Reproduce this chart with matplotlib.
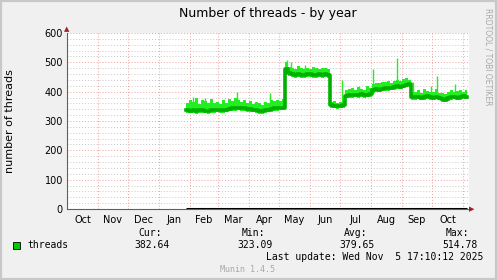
import numpy as np
import matplotlib
matplotlib.use("Agg")
import matplotlib.pyplot as plt
import matplotlib.dates as mdates
from matplotlib.patches import Rectangle
import datetime as dt

# ---------------- data ----------------
title = "Number of threads - by year"
ylabel = "number of threads"
months = ["Oct", "Nov", "Dec", "Jan", "Feb", "Mar", "Apr", "May", "Jun",
          "Jul", "Aug", "Sep", "Oct"]
x_start = dt.date(2024, 10, 1)
x_end = dt.date(2025, 11, 7)
data_start = dt.date(2025, 1, 28)   # first sample (3-day bins)
bin_days = 3

avg = [336, 335, 337, 334, 336, 338, 335, 334, 336, 337,
       338, 337, 336, 339, 342, 344, 343, 345, 344, 343,
       341, 340, 338, 336, 334, 333, 336, 339, 341, 343,
       344, 345, 346,
       478,
       462, 460, 458, 459, 457, 458, 460, 459, 458, 457, 459, 458, 460,
       456,
       353, 352, 350, 352, 354,
       386,
       388, 387, 390, 389, 391, 388, 390, 392,
       405, 408, 407, 410, 411, 412, 414, 415, 418, 417, 420,
       424, 427,
       382,
       381, 383, 380, 382, 384, 381, 379, 383, 380, 376, 373, 378, 381, 383,
       380, 382, 384, 383]

hi = [360, 372, 365, 378, 358, 370, 368, 362, 374, 360,
      365, 358, 370, 362, 375, 368, 380, 372, 366, 370,
      362, 368, 358, 364, 360, 356, 365, 362, 370, 368,
      372, 368, 375,
      500,
      485, 482, 478, 486, 480, 476, 482, 478, 484, 480, 476, 482, 479,
      478,
      365, 368, 362, 366, 372,
      405,
      408, 412, 404, 415, 410, 406, 418, 412,
      425, 430, 428, 434, 432, 436, 430, 438, 440, 437, 442,
      445, 440,
      400,
      398, 405, 396, 410, 402, 400, 398, 408, 396, 395, 392, 400, 405, 398,
      402, 406, 400, 404]

lo = [326, 327, 326, 325, 327, 328, 326, 324, 327, 328,
      329, 328, 327, 330, 333, 335, 334, 336, 335, 334,
      332, 331, 329, 327, 323, 324, 327, 330, 332, 334,
      335, 336, 337,
      460,
      452, 450, 448, 449, 447, 448, 450, 449, 448, 447, 449, 448, 450,
      446,
      344, 343, 341, 343, 345,
      378,
      379, 378, 381, 380, 382, 379, 381, 383,
      396, 399, 398, 401, 402, 403, 405, 406, 409, 408, 411,
      415, 418,
      372,
      372, 374, 371, 373, 375, 372, 370, 374, 371, 366, 364, 369, 372, 374,
      371, 373, 375, 374]

spike_dates = ["2025-02-04", "2025-02-16", "2025-03-20", "2025-04-22",
               "2025-05-09", "2025-05-13", "2025-05-27", "2025-07-03",
               "2025-07-20", "2025-08-03", "2025-08-27", "2025-09-12",
               "2025-09-30", "2025-10-06", "2025-10-24"]
spike_vals = [382, 380, 400, 395, 508, 500, 492, 440, 420, 478, 514.78,
              432, 418, 453, 425]

legend_name = "threads"
stat_labels = ["Cur:", "Min:", "Avg:", "Max:"]
stat_vals = ["382.64", "323.09", "379.65", "514.78"]
last_update = "Last update: Wed Nov  5 17:10:12 2025"

# ---------------- figure ----------------
W, H = 497, 280
fig = plt.figure(figsize=(W / 100, H / 100), dpi=100, facecolor="#f0f0f0")

def px(x, y):
    return x / W, 1 - y / H

# frame border
fig.patches.append(Rectangle((0, 0), 1, 1, transform=fig.transFigure,
                             fill=False, edgecolor="#c8c8c8", lw=3))

l, r, t, b = 67, 469, 33, 209
ax = fig.add_axes([l / W, 1 - b / H, (r - l) / W, (b - t) / H])
ax.set_facecolor("white")

days = np.array([np.datetime64(data_start) + np.timedelta64(bin_days * i, "D")
                 for i in range(len(avg))])
days_num = mdates.date2num(days.astype("datetime64[D]").astype(object))
end_num = mdates.date2num(dt.date(2025, 11, 5))
xs = np.append(days_num, end_num)
avg_e = np.append(avg, avg[-1])
hi_e = np.append(hi, hi[-1])
lo_e = np.append(lo, lo[-1])

light = "#22ee22"
dark = "#00b000"
ax.fill_between(xs, lo_e, hi_e, step="post", color=light, lw=0, zorder=3)
sd = mdates.date2num([dt.date.fromisoformat(s) for s in spike_dates])
base = np.interp(sd, xs, avg_e)
ax.vlines(sd, base, spike_vals, color=light, lw=1.0, zorder=3)
ax.plot(xs, avg_e, drawstyle="steps-post", color=dark, lw=2.6, zorder=4)
# zero line where data exists
ax.plot([xs[0], xs[-1]], [0, 0], color="black", lw=2.2, zorder=5,
        solid_capstyle="butt")

ax.set_xlim(mdates.date2num(x_start), mdates.date2num(x_end))
ax.set_ylim(0, 600)

# gridlines
for yv in range(20, 600, 20):
    if yv % 100:
        ax.axhline(yv, color="#c8c8c8", lw=0.7, ls=(0, (1, 2)), zorder=1)
for yv in range(100, 601, 100):
    ax.axhline(yv, color="#f0a0a0", lw=0.7, ls=(0, (1, 2)), zorder=2)
month_starts = []
d = dt.date(2024, 11, 1)
while d <= dt.date(2025, 11, 1):
    month_starts.append(d)
    d = dt.date(d.year + (d.month // 12), d.month % 12 + 1, 1)
for ms in month_starts:
    ax.axvline(mdates.date2num(ms), color="#f0a0a0", lw=0.7,
               ls=(0, (1, 2)), zorder=2)

# ticks
ax.set_yticks(range(0, 601, 100))
ax.set_yticklabels([str(v) for v in range(0, 601, 100)])
mid = []
d = dt.date(2024, 10, 1)
for i in range(len(months)):
    nd = dt.date(d.year + (d.month // 12), d.month % 12 + 1, 1)
    mid.append(mdates.date2num(d) + (mdates.date2num(nd) - mdates.date2num(d)) / 2)
    d = nd
ax.set_xticks(mid)
ax.set_xticklabels(months)
ax.tick_params(axis="both", length=0, labelsize=7, colors="black", pad=3)
ax.tick_params(axis="x", pad=4)
for s in ["top", "right"]:
    ax.spines[s].set_visible(False)
ax.spines["left"].set_color("#606060")
ax.spines["bottom"].set_color("#606060")
ax.spines["left"].set_linewidth(0.8)
ax.spines["bottom"].set_linewidth(0.8)

# arrows
fig.text(*px(67, 29), "▲", color="#a02020", fontsize=5, ha="center", va="center")
fig.text(*px(472, 209), "▶", color="#a02020", fontsize=5, ha="center", va="center")

# texts
fig.text(*px(268, 13), title, fontsize=9, ha="center", va="center")
fig.text(*px(10, 121), ylabel, fontsize=8, rotation=90, ha="center", va="center")
fig.text(*px(488, 57), "RRDTOOL / TOBI OETIKER", fontsize=5.5, rotation=270,
         ha="center", va="center", color="#a8a8a8")

mono = "DejaVu Sans Mono"
fig.patches.append(Rectangle(px(13, 249), 7 / W, 7 / H, transform=fig.transFigure,
                             facecolor="#00cc00", edgecolor="black", lw=0.6))
fig.text(*px(27, 245), legend_name, fontsize=7, family=mono, ha="left", va="center")
hdr_x = [162, 265, 367, 469]
val_x = [170, 273, 375, 478]
for hx, vx, lab, val in zip(hdr_x, val_x, stat_labels, stat_vals):
    fig.text(*px(hx, 233), lab, fontsize=7, family=mono, ha="right", va="center")
    fig.text(*px(vx, 245), val, fontsize=7, family=mono, ha="right", va="center")
fig.text(*px(483, 257), last_update, fontsize=7, family=mono, ha="right", va="center")
fig.text(*px(248, 269), "Munin 1.4.5", fontsize=6, family=mono, ha="center",
         va="center", color="#a8a8a8")

fig.savefig("out.png", dpi=100, facecolor=fig.get_facecolor())
